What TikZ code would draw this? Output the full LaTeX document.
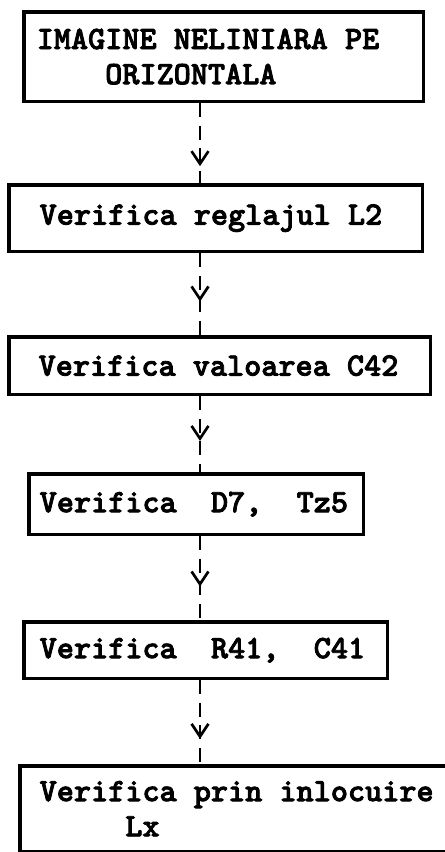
\documentclass[tikz,border=0pt]{standalone}
\usepackage{fontspec}
\newfontfamily\typefont{lmmonolt10-bold.otf}[FakeBold=2.5]
\usetikzlibrary{arrows.meta, decorations.markings}

% one typewriter column
\newcommand{\gap}{\hphantom{X}}

\begin{document}
\begin{tikzpicture}[x=0.025cm, y=-0.025cm,
  box/.style={draw, line width=2.5pt, anchor=north west, align=left,
    inner ysep=0pt, font=\typefont\fontsize{23.2}{25}\selectfont},
  flow/.style={line width=1.9pt, dash pattern=on 10pt off 6pt,
    postaction={decorate}, decoration={markings,
      mark=at position #1 with {\arrow{Straight Barb[length=9pt, width=12pt]}}}}]
  \useasboundingbox (0, 0) rectangle (445, 852);
  \clip (0, 0) rectangle (445, 852);

  % Boxes, top to bottom
  \node[box, inner xsep=9.21pt, text width=265.75pt, minimum height=63.78pt]
    (b1) at (22, 10) {IMAGINE\gap NELINIARA\gap PE\\\gap\gap\gap\gap ORIZONTALA};
  \node[box, inner xsep=21.97pt, text width=250.15pt, minimum height=47.48pt]
    (b2) at (7, 183) {Verifica\gap reglajul\gap L2};
  \node[box, inner xsep=21.26pt, text width=257.24pt, minimum height=41.10pt]
    (b3) at (7, 335) {Verifica\gap valoarea\gap C42};
  \node[box, inner xsep=7.80pt, text width=222.51pt, minimum height=43.23pt]
    (b4) at (27, 472) {Verifica\gap\gap D7,\gap\gap Tz5};
  \node[box, inner xsep=11.34pt, text width=235.98pt, minimum height=40.39pt]
    (b5) at (22, 620) {Verifica\gap\gap R41,\gap\gap C41};
  \node[box, inner xsep=14.17pt, text width=297.64pt, minimum height=60.94pt]
    (b6) at (18, 764) {Verifica\gap prin\gap inlocuire\\\gap\gap\gap\gap\gap Lx};

  % Dashed arrows
  \coordinate (spine) at (200, 0);
  \draw[flow=0.79] (b1.south -| spine) -- (b2.north -| spine);
  \draw[flow=0.59] (b2.south -| spine) -- (b3.north -| spine);
  \draw[flow=0.59] (b3.south -| spine) -- (b4.north -| spine);
  \draw[flow=0.6] (b4.south -| spine) -- (b5.north -| spine);
  \draw[flow=0.7] (b5.south -| spine) -- (b6.north -| spine);
\end{tikzpicture}
\end{document}
